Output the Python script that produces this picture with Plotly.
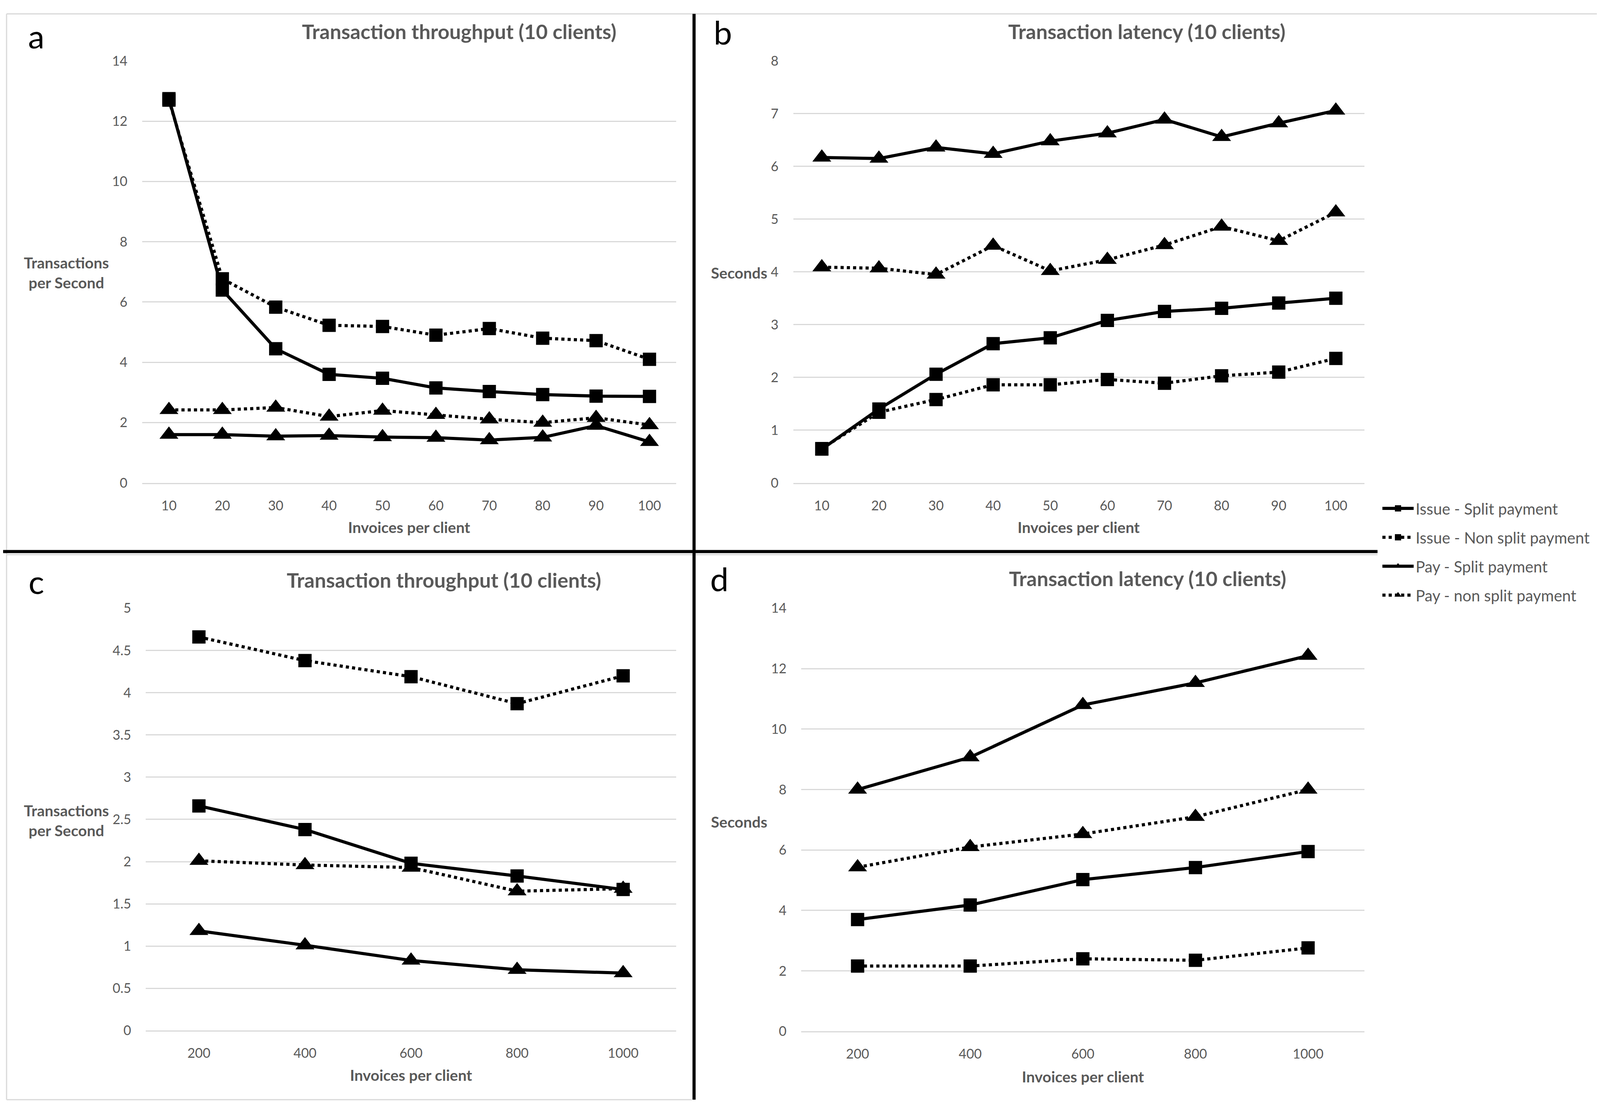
import plotly.graph_objects as go

W, H = 4387, 2856

# ---------------- data ----------------
invoices_small = [10, 20, 30, 40, 50, 60, 70, 80, 90, 100]
invoices_large = [200, 400, 600, 800, 1000]

series_names = ["Issue - Split payment", "Issue - Non split payment",
                "Pay - Split payment", "Pay - non split payment"]

# panel a: throughput vs invoices (10..100)
a_issue_split = [12.75, 6.4, 4.45, 3.6, 3.47, 3.15, 3.03, 2.93, 2.88, 2.87]
a_issue_nonsplit = [12.7, 6.77, 5.83, 5.23, 5.19, 4.9, 5.12, 4.8, 4.72, 4.1]
a_pay_split = [1.6, 1.6, 1.55, 1.57, 1.52, 1.5, 1.42, 1.51, 1.9, 1.36]
a_pay_nonsplit = [2.42, 2.42, 2.5, 2.2, 2.4, 2.26, 2.11, 2.0, 2.16, 1.92]

# panel b: latency vs invoices (10..100)
b_issue_split = [0.64, 1.4, 2.06, 2.64, 2.75, 3.08, 3.25, 3.31, 3.41, 3.5]
b_issue_nonsplit = [0.65, 1.34, 1.58, 1.86, 1.86, 1.96, 1.89, 2.03, 2.1, 2.36]
b_pay_split = [6.17, 6.15, 6.36, 6.24, 6.48, 6.63, 6.89, 6.56, 6.82, 7.06]
b_pay_nonsplit = [4.09, 4.07, 3.95, 4.5, 4.02, 4.23, 4.51, 4.86, 4.59, 5.13]

# panel c: throughput vs invoices (200..1000)
c_issue_split = [2.66, 2.38, 1.98, 1.83, 1.67]
c_issue_nonsplit = [4.66, 4.38, 4.19, 3.87, 4.2]
c_pay_split = [1.18, 1.01, 0.83, 0.72, 0.68]
c_pay_nonsplit = [2.01, 1.96, 1.93, 1.65, 1.68]

# panel d: latency vs invoices (200..1000)
d_issue_split = [3.7, 4.18, 5.02, 5.42, 5.95]
d_issue_nonsplit = [2.16, 2.16, 2.4, 2.35, 2.76]
d_pay_split = [8.0, 9.07, 10.8, 11.53, 12.43]
d_pay_nonsplit = [5.43, 6.1, 6.53, 7.1, 8.0]

# tick labels
a_yticks = [0, 2, 4, 6, 8, 10, 12, 14]
b_yticks = [0, 1, 2, 3, 4, 5, 6, 7, 8]
c_yticks = [0, 0.5, 1, 1.5, 2, 2.5, 3, 3.5, 4, 4.5, 5]
c_ytick_text = ["0", "0.5", "1", "1.5", "2", "2.5", "3", "3.5", "4", "4.5", "5"]
d_yticks = [0, 2, 4, 6, 8, 10, 12, 14]

titles = ["Transaction throughput (10 clients)", "Transaction latency (10 clients)",
          "Transaction throughput (10 clients)", "Transaction latency (10 clients)"]
x_title = "Invoices per client"
y_titles = ["Transactions<br>per Second", "Seconds", "Transactions<br>per Second", "Seconds"]
letters = ["a", "b", "c", "d"]

# ---------------- layout helpers ----------------
# positions below are given in reference-image pixels; convert to paper fractions,
# compensating for the page offset around the auto-sized plot
X_OFF, X_SCALE = 8 / 4100, 4084 / 4100
Y_OFF, Y_SCALE = 30 / 2841, 2803 / 2841


def fx(x):
    return (x / W - X_OFF) / X_SCALE


def fy(y):
    f = (y / H - Y_OFF) / Y_SCALE
    f = max(f, 0.002)
    return 1 - f


FONT = "Lato, 'Open Sans', sans-serif"
GRAY = "#595959"
GRID = "#d9d9d9"

panels = [
    dict(x=invoices_small, ys=[a_issue_split, a_issue_nonsplit, a_pay_split, a_pay_nonsplit],
         xdom=(390, 1854), ydom=(157, 1244), xr=(5, 105), yr=(0, 14),
         yt=a_yticks, ytt=[str(v) for v in a_yticks],
         tpos=(1259, 80), xtpos=1358, ytpos=(182, 702), lpos=(100, 92)),
    dict(x=invoices_small, ys=[b_issue_split, b_issue_nonsplit, b_pay_split, b_pay_nonsplit],
         xdom=(2175, 3741), ydom=(157, 1244), xr=(5, 105), yr=(0, 8),
         yt=b_yticks, ytt=[str(v) for v in b_yticks],
         tpos=(3145, 80), xtpos=1358, ytpos=(2026, 703), lpos=(1982, 82)),
    dict(x=invoices_large, ys=[c_issue_split, c_issue_nonsplit, c_pay_split, c_pay_nonsplit],
         xdom=(400, 1854), ydom=(1567, 2655), xr=(100, 1100), yr=(0, 5),
         yt=c_yticks, ytt=c_ytick_text,
         tpos=(1217, 1494), xtpos=2769, ytpos=(182, 2114), lpos=(100, 1497)),
    dict(x=invoices_large, ys=[d_issue_split, d_issue_nonsplit, d_pay_split, d_pay_nonsplit],
         xdom=(2197, 3741), ydom=(1567, 2657), xr=(100, 1100), yr=(0, 14),
         yt=d_yticks, ytt=[str(v) for v in d_yticks],
         tpos=(3147, 1490), xtpos=2773, ytpos=(2026, 2117), lpos=(1972, 1490)),
]

symbols = ["square", "square", "triangle-up", "triangle-up"]
msizes = [34, 34, 42, 42]
dashes = ["solid", "dot", "solid", "dot"]

fig = go.Figure()
annotations = []
layout_axes = {}

for i, p in enumerate(panels):
    k = "" if i == 0 else str(i + 1)
    xa, ya = "x" + k, "y" + k
    for j, yv in enumerate(p["ys"]):
        fig.add_trace(go.Scatter(
            x=p["x"], y=yv, xaxis=xa, yaxis=ya, mode="lines+markers",
            name=series_names[j], legendgroup=series_names[j], showlegend=(i == 0),
            line=dict(color="black", width=8, dash=dashes[j]),
            marker=dict(symbol=symbols[j], size=msizes[j], color="black", line=dict(width=0)),
        ))
    layout_axes["xaxis" + k] = dict(
        domain=[fx(p["xdom"][0]), fx(p["xdom"][1])], anchor=ya, range=list(p["xr"]),
        tickvals=p["x"], ticktext=[str(v) for v in p["x"]],
        showgrid=False, zeroline=False, showline=True, linecolor=GRID, linewidth=3,
        ticks="outside", ticklen=26, tickcolor="rgba(0,0,0,0)",
        tickfont=dict(family=FONT, size=34, color=GRAY), fixedrange=True,
    )
    layout_axes["yaxis" + k] = dict(
        domain=[fy(p["ydom"][1]), fy(p["ydom"][0])], anchor=xa, range=list(p["yr"]),
        tickvals=p["yt"], ticktext=p["ytt"],
        showgrid=True, gridcolor=GRID, gridwidth=3, zeroline=False, showline=False,
        ticks="outside", ticklen=30, tickcolor="rgba(0,0,0,0)",
        tickfont=dict(family=FONT, size=34, color=GRAY), fixedrange=True,
    )
    annotations.append(dict(text="<b>" + titles[i] + "</b>", x=fx(p["tpos"][0]), y=fy(p["tpos"][1]),
                            xref="paper", yref="paper", showarrow=False, xanchor="center", yanchor="middle",
                            font=dict(family=FONT, size=52, color=GRAY)))
    annotations.append(dict(text="<b>" + x_title + "</b>", x=fx((p["xdom"][0] + p["xdom"][1]) / 2),
                            y=fy(p["xtpos"]), xref="paper", yref="paper", showarrow=False,
                            xanchor="center", yanchor="middle",
                            font=dict(family=FONT, size=39, color=GRAY)))
    annotations.append(dict(text="<b>" + y_titles[i] + "</b>", x=fx(p["ytpos"][0]), y=fy(p["ytpos"][1]),
                            xref="paper", yref="paper", showarrow=False, xanchor="center", yanchor="middle",
                            align="center", font=dict(family=FONT, size=39, color=GRAY)))
    annotations.append(dict(text=letters[i], x=fx(p["lpos"][0]), y=fy(p["lpos"][1]),
                            xref="paper", yref="paper", showarrow=False, xanchor="center", yanchor="middle",
                            font=dict(family=FONT, size=84, color="black")))


def hline(x0, x1, y, color, width):
    return dict(type="line", xref="paper", yref="paper", x0=fx(x0), x1=fx(x1), y0=fy(y), y1=fy(y),
                line=dict(color=color, width=width), layer="above")


def vline(x, y0, y1, color, width):
    return dict(type="line", xref="paper", yref="paper", x0=fx(x), x1=fx(x), y0=fy(y0), y1=fy(y1),
                line=dict(color=color, width=width), layer="above")


shapes = [
    hline(18, W, 17, GRID, 3),
    vline(18, 17, 2833, GRID, 3),
    hline(18, 1897, 2833, GRID, 3),
    hline(18, 3777, 1429, GRID, 3),
    vline(1903, 0, 2833, "black", 8),
    hline(0, 3777, 1421, "black", 8),
]

fig.update_layout(
    autosize=True, margin=dict(l=0, r=0, t=0, b=0),
    paper_bgcolor="white", plot_bgcolor="white",
    font=dict(family=FONT, color=GRAY),
    showlegend=True,
    legend=dict(x=fx(3785), y=fy(1277), xanchor="left", yanchor="top",
                font=dict(family=FONT, size=40, color=GRAY), bgcolor="rgba(0,0,0,0)",
                tracegroupgap=19, itemwidth=80),
    annotations=annotations, shapes=shapes,
    **layout_axes,
)

fig.write_html("out.html", default_width="calc(100vw - 16px)", default_height="calc(100vh - 16px)")
